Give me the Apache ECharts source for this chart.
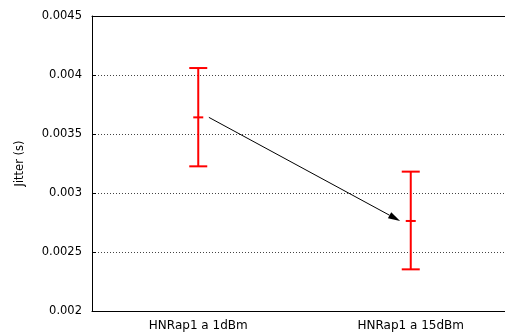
<!DOCTYPE html>
<html>
<head>
<meta charset="utf-8">
<script src="https://cdn.jsdelivr.net/npm/echarts@6/dist/echarts.min.js"></script>
<style>
html,body{margin:0;padding:0;background:#fff;}
#chart{width:505px;height:334px;}
</style>
</head>
<body>
<div id="chart"></div>
<script>
// data
var categories = ['HNRap1 a 1dBm', 'HNRap1 a 15dBm'];
var means = [0.003641, 0.002763];
var lows = [0.003226, 0.002353];
var highs = [0.004059, 0.003181];
var yTicks = [0.002, 0.0025, 0.003, 0.0035, 0.004, 0.0045];

var font = 'DejaVu Sans';
var myChart = echarts.init(document.getElementById('chart'));

var barData = categories.map(function (c, i) {
    return [i, means[i], lows[i], highs[i]];
});

option = {
    animation: false,
    backgroundColor: '#fff',
    grid: {
        left: 92,
        right: -12,   // the right edge runs past the picture
        top: 16,
        bottom: 23,
        outerBoundsMode: 'none',
        containLabel: false
    },
    xAxis: [{
        type: 'category',
        data: categories,
        boundaryGap: true,
        axisLine: { show: true, lineStyle: { color: '#000', width: 1 } },
        axisTick: { inside: true, length: 5, alignWithLabel: true, lineStyle: { color: '#000' } },
        axisLabel: { color: '#000', fontFamily: font, fontSize: 12, margin: 9 },
        splitLine: { show: false }
    }, {
        type: 'category',
        position: 'top',
        data: categories,
        boundaryGap: true,
        axisLine: { show: true, lineStyle: { color: '#000', width: 1 } },
        axisTick: { inside: true, length: 5, alignWithLabel: true, lineStyle: { color: '#000' } },
        axisLabel: { show: false },
        splitLine: { show: false }
    }],
    yAxis: {
        type: 'value',
        min: yTicks[0],
        max: yTicks[yTicks.length - 1],
        interval: 0.0005,
        name: 'Jitter (s)',
        nameLocation: 'middle',
        nameGap: 66,
        nameTextStyle: { color: '#000', fontFamily: font, fontSize: 11.5 },
        axisLine: { show: true, lineStyle: { color: '#000', width: 1 } },
        axisTick: { show: true, inside: true, length: 4, lineStyle: { color: '#000' } },
        axisLabel: {
            color: '#000', fontFamily: font, fontSize: 11.5, margin: 10,
            formatter: function (v) { return String(parseFloat(v.toFixed(4))); }
        },
        splitLine: {
            show: true,
            lineStyle: { color: '#444', type: [1, 2], width: 1 }
        }
    },
    series: [{
        type: 'custom',
        name: 'jitter',
        xAxisIndex: 0,
        data: barData,
        renderItem: function (params, api) {
            var x = api.value(0);
            var pm = api.coord([x, api.value(1)]);
            var pl = api.coord([x, api.value(2)]);
            var ph = api.coord([x, api.value(3)]);
            var cap = 9, mid = 5;
            var st = { stroke: '#ff0000', lineWidth: 2 };
            return {
                type: 'group',
                children: [
                    { type: 'line', shape: { x1: pl[0], y1: pl[1], x2: ph[0], y2: ph[1] }, style: st },
                    { type: 'line', shape: { x1: pl[0] - cap, y1: pl[1], x2: pl[0] + cap, y2: pl[1] }, style: st },
                    { type: 'line', shape: { x1: ph[0] - cap, y1: ph[1], x2: ph[0] + cap, y2: ph[1] }, style: st },
                    { type: 'line', shape: { x1: pm[0] - mid, y1: pm[1], x2: pm[0] + mid, y2: pm[1] }, style: st }
                ]
            };
        },
        z: 3
    }, {
        type: 'custom',
        name: 'arrow',
        xAxisIndex: 0,
        data: [[0, means[0], 1, means[1]]],
        renderItem: function (params, api) {
            var p0 = api.coord([api.value(0), api.value(1)]);
            var p1 = api.coord([api.value(2), api.value(3)]);
            var dx = (p1[0] - p0[0]) * 0.05;
            var s = [p0[0] + dx, p0[1]];
            var e = [p1[0] - dx, p1[1]];
            var ang = Math.atan2(e[1] - s[1], e[0] - s[0]);
            var len = 12, hw = 3.5;
            var bx = e[0] - len * Math.cos(ang), by = e[1] - len * Math.sin(ang);
            var nx = -Math.sin(ang) * hw, ny = Math.cos(ang) * hw;
            return {
                type: 'group',
                children: [
                    { type: 'line', shape: { x1: s[0], y1: s[1], x2: bx, y2: by }, style: { stroke: '#000', lineWidth: 1 } },
                    { type: 'polygon', shape: { points: [e, [bx + nx, by + ny], [bx - nx, by - ny]] }, style: { fill: '#000' } }
                ]
            };
        },
        z: 4
    }]
};

myChart.setOption(option);
window.addEventListener("resize", function () {
    myChart.resize();
});
</script>
</body>
</html>
